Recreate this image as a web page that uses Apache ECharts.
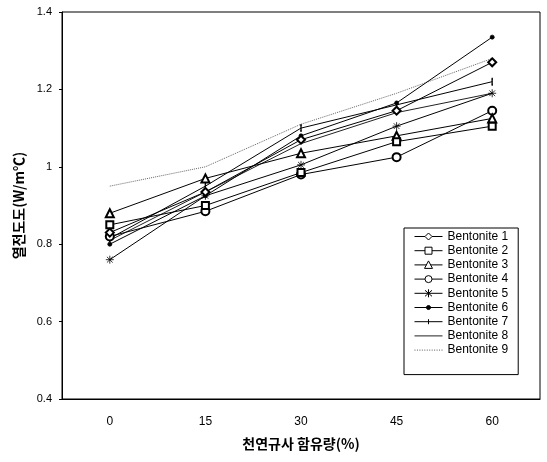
<!DOCTYPE html>
<html><head><meta charset="utf-8">
<script src="https://cdn.jsdelivr.net/npm/echarts@6/dist/echarts.min.js"></script>
<style>html,body{margin:0;padding:0;background:#fff}#c{width:547px;height:462px}</style>
</head><body><div id="c"></div>
<script>
const categories = ['0', '15', '30', '45', '60'];
const yTicks = [0.4, 0.6, 0.8, 1, 1.2, 1.4];
const b1 = [0.83, 0.935, 1.07, 1.145, 1.27];
const b2 = [0.85, 0.90, 0.985, 1.065, 1.105];
const b3 = [0.88, 0.97, 1.035, 1.08, 1.125];
const b4 = [0.82, 0.885, 0.98, 1.025, 1.145];
const b5 = [0.76, 0.925, 1.005, 1.105, 1.19];
const b6 = [0.80, 0.925, 1.08, 1.165, 1.335];
const b7 = [0.815, 0.95, 1.10, 1.16, 1.22];
const b8 = [0.81, 0.935, 1.06, 1.14, 1.19];
const b9 = [0.95, 1.0, 1.11, 1.19, 1.28];

const names = ['Bentonite 1','Bentonite 2','Bentonite 3','Bentonite 4','Bentonite 5','Bentonite 6','Bentonite 7','Bentonite 8','Bentonite 9'];
const dataSets = [b1,b2,b3,b4,b5,b6,b7,b8,b9];
const star = 'path://M0,-5L0,5M-5,0L5,0M-3.6,-3.6L3.6,3.6M-3.6,3.6L3.6,-3.6';
const tick = 'path://M-0.4,-4L0.4,-4L0.4,4L-0.4,4Z';
const symbols = ['emptyDiamond','emptyRect','emptyTriangle','emptyCircle',star,'circle',tick,'none','none'];
const sizes = [8,7,8,8,8,4,[1,6],0,0];
const lineTypes = ['solid','solid','solid','solid','solid','solid','solid','solid','dotted'];
const lineColors = ['#000','#000','#000','#000','#000','#000','#000','#222','#666'];

// legend icons: line + marker, in a 28x12 box
const BOX = 'M0,0M28,12';
let dots = '';
for (let x = 0; x < 28; x += 2.5) dots += 'M' + x + ',6L' + (x + 1) + ',6';
const legendIcons = [
  'path://' + BOX + 'M0,6L10.5,6M17.5,6L28,6M14,2.5L17.5,6L14,9.5L10.5,6Z',
  'path://' + BOX + 'M0,6L10.5,6M17.5,6L28,6M10.5,2.5L17.5,2.5L17.5,9.5L10.5,9.5Z',
  'path://' + BOX + 'M0,6L12,6M16,6L28,6M14,2L18,9.5L10,9.5Z',
  'path://' + BOX + 'M0,6L10.5,6M17.5,6L28,6M10.5,6A3.5,3.5 0 1 1 17.5,6A3.5,3.5 0 1 1 10.5,6Z',
  'path://' + BOX + 'M0,6L28,6M14,2L14,10M10.5,3L17.5,9M10.5,9L17.5,3',
  'path://' + BOX + 'M0,6L28,6M12,6A2,2 0 1 1 16,6A2,2 0 1 1 12,6Z',
  'path://' + BOX + 'M0,6L28,6M14,3.5L14,8.5',
  'path://' + BOX + 'M0,6L28,6',
  'path://' + BOX + dots
];
const legendFill = ['#fff','#fff','#fff','#fff','#000','#000','#000','#000','#000'];
const legendStroke = ['#000','#000','#000','#000','#000','#000','#000','#222','#555'];

const series = dataSets.map((d,i)=>({
  name: names[i], type:'line', data:d,
  symbol: symbols[i], symbolSize: sizes[i], showSymbol: symbols[i] !== 'none',
  lineStyle:{color:lineColors[i], width:1, type:lineTypes[i]},
  itemStyle:{color:'#000', borderColor:'#000', borderWidth:0.8},
  emphasis:{disabled:true}, animation:false, z: 10-i
}));

const chart = echarts.init(document.getElementById('c'));
chart.setOption({
  backgroundColor:'#fff',
  animation:false,
  textStyle:{fontFamily:'Liberation Sans, Arial, sans-serif'},
  grid:{left:62, top:12, right:7, bottom:63, show:true, borderColor:'#000', borderWidth:1, backgroundColor:'transparent'},
  xAxis:{type:'category', data:categories, boundaryGap:true,
    name:'천연규사 함유량(%)', nameLocation:'middle', nameGap:38,
    nameTextStyle:{fontFamily:'Noto Sans CJK KR', fontSize:14, fontWeight:'bold', color:'#000'},
    axisLine:{lineStyle:{color:'#000'}},
    axisTick:{inside:true, length:4, lineStyle:{color:'#000'}},
    axisLabel:{color:'#000', fontSize:12, margin:17},
    splitLine:{show:false}},
  yAxis:{type:'value', min:0.4, max:1.4, interval:0.2,
    name:'열전도도(W/m℃)', nameLocation:'middle', nameGap:35, nameRotate:90,
    nameTextStyle:{fontFamily:'Noto Sans CJK KR', fontSize:14, fontWeight:'bold', color:'#000'},
    axisLine:{show:true, lineStyle:{color:'#000'}},
    axisTick:{show:true, length:3, lineStyle:{color:'#000'}},
    axisLabel:{color:'#000', fontSize:11, margin:10, formatter:v=>{const t=yTicks.find(x=>Math.abs(x-v)<1e-6);return String(t!==undefined?t:v);}},
    splitLine:{show:false}},
  legend:{orient:'vertical', left:404, top:228,
    backgroundColor:'#fff', borderColor:'#000', borderWidth:1,
    padding:[2,10,18,10], itemGap:1.2, itemWidth:28, itemHeight:12, symbolKeepAspect:false,
    textStyle:{color:'#000', fontSize:12, fontFamily:'Liberation Sans, Arial, sans-serif'},
    data:names.map((n,i)=>({name:n, icon:legendIcons[i],
      itemStyle:{color:legendFill[i], borderColor:legendStroke[i], borderWidth:1}}))},
  series
});
</script></body></html>
